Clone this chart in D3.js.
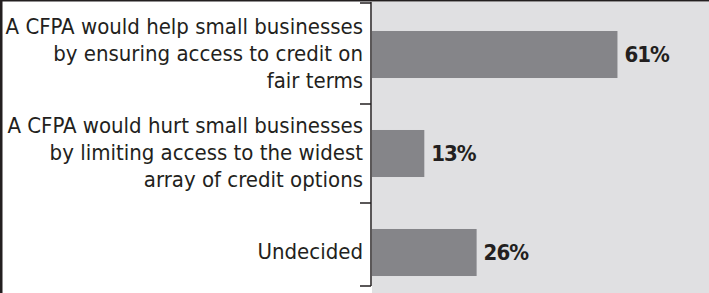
<!DOCTYPE html>
<html>
<head>
<meta charset="utf-8">
<script src="https://cdn.jsdelivr.net/npm/d3@7"></script>
<style>
  html, body { margin: 0; padding: 0; background: #fff; }
  svg { display: block; }
  .label { font-family: "Liberation Sans Narrow", "DejaVu Sans Condensed", sans-serif; font-size: 22px; fill: #231f20; }
  .value { font-family: "Liberation Sans Narrow", "DejaVu Sans Condensed", sans-serif; font-size: 22px; font-weight: bold; letter-spacing: -1px; fill: #231f20; }
</style>
</head>
<body>
<div id="chart"></div>
<script>
// data
const categories = ["help", "hurt", "undecided"];
const labels = [
  ["A CFPA would help small businesses", "by ensuring access to credit on", "fair terms"],
  ["A CFPA would hurt small businesses", "by limiting access to the widest", "array of credit options"],
  ["Undecided"],
];
const values = [61, 13, 26];

const width = 709;
const height = 293;
const axisX = 371;
const plotTop = 2;
const plotBottom = 286;

const svg = d3.select("#chart")
  .append("svg")
  .attr("width", width)
  .attr("height", height);

// background panels
svg.append("rect")
  .attr("x", axisX + 1).attr("y", plotTop)
  .attr("width", width - axisX - 1).attr("height", height - plotTop)
  .attr("fill", "#e0e0e2");

// frame: top and left border
svg.append("rect").attr("x", 0).attr("y", 0).attr("width", width).attr("height", 1.5).attr("fill", "#231f20");
svg.append("rect").attr("x", 0).attr("y", 0).attr("width", 2.5).attr("height", height).attr("fill", "#231f20");

// scales
const x = d3.scaleLinear().domain([0, 84]).range([axisX + 1, width + 1]);
const y = d3.scaleBand()
  .domain(categories)
  .range([5, 302])
  .paddingInner(0.525)
  .paddingOuter(0.2625);

// bars
svg.append("g")
  .selectAll("rect")
  .data(values)
  .join("rect")
  .attr("x", x(0))
  .attr("y", (d, i) => y(categories[i]))
  .attr("width", (d) => x(d) - x(0))
  .attr("height", y.bandwidth())
  .attr("fill", "#858589");

// value labels
svg.append("g")
  .selectAll("text")
  .data(values)
  .join("text")
  .attr("class", "value")
  .attr("x", (d) => x(d) + 7)
  .attr("y", (d, i) => y(categories[i]) + y.bandwidth() / 2)
  .attr("dy", "0.36em")
  .text((d) => d + "%");

// category axis line and ticks
const axis = svg.append("g").attr("stroke", "#231f20").attr("stroke-width", 1.5);
axis.append("line")
  .attr("x1", axisX).attr("x2", axisX)
  .attr("y1", plotTop).attr("y2", plotBottom);

const tickYs = [plotTop + 1]
  .concat(categories.slice(1).map((c) => y(c) - (y.step() * y.paddingInner()) / 2))
  .concat([plotBottom]);
axis.selectAll(".tick")
  .data(tickYs)
  .join("line")
  .attr("class", "tick")
  .attr("x1", axisX - 11).attr("x2", axisX)
  .attr("y1", (d) => d).attr("y2", (d) => d);

// category labels
const lineH = 27;
svg.append("g")
  .selectAll("text")
  .data(labels)
  .join("text")
  .attr("class", "label")
  .attr("text-anchor", "end")
  .attr("transform", (d, i) => `translate(${axisX - 8},${y(categories[i]) + y.bandwidth() / 2})`)
  .each(function (lines) {
    const t = d3.select(this);
    lines.forEach((line, j) => {
      t.append("tspan")
        .attr("x", 0)
        .attr("y", (j - (lines.length - 1) / 2) * lineH)
        .attr("dy", "0.3em")
        .text(line);
    });
  });
</script>
</body>
</html>
